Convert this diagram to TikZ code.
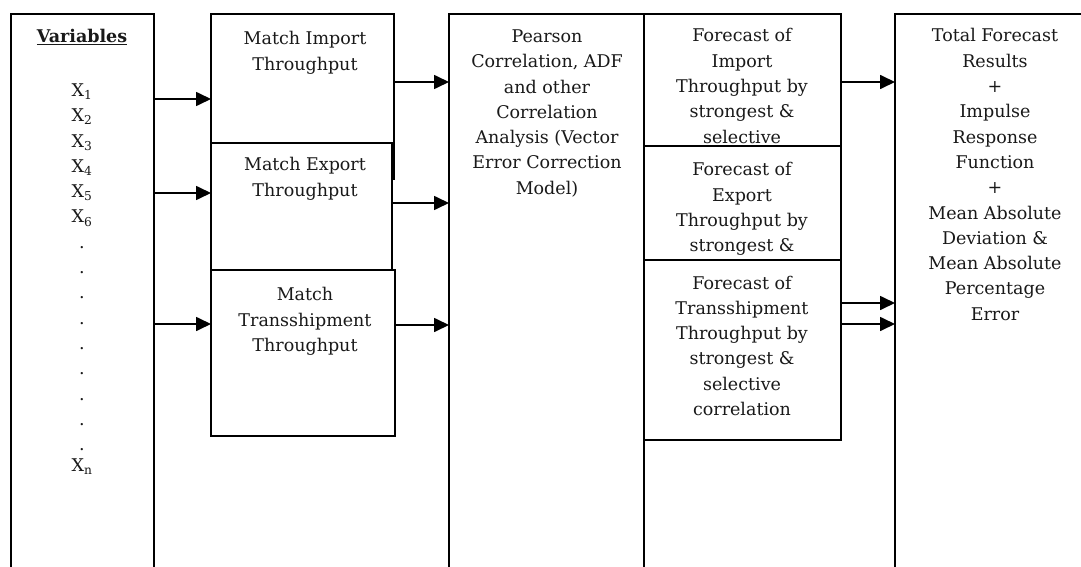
\documentclass[tikz,border=0pt]{standalone}
\usepackage{fontspec}
\setmainfont{DejaVu Serif}
\usetikzlibrary{arrows.meta}
\begin{document}
\begin{tikzpicture}[x=1pt,y=-1pt,
  box/.style={draw, line width=1.7pt, rectangle, inner sep=0pt, outer sep=0pt},
  lbl/.style={align=center, inner sep=0pt, anchor=north, font=\fontsize{17.5}{25.3}\selectfont, text=black!90},
  arr/.style={line width=1.7pt, -{Triangle[length=15pt,width=14pt]}},
]
\clip (0,0) rectangle (1081,567);
\fill[white] (0,0) rectangle (1081,567);
% boxes
\node[box, minimum width=143pt, minimum height=586pt] (var) at (82.5,307) {};
\node[box, minimum width=183pt, minimum height=129pt] (imp) at (302.5,78.5) {};
\node[box, minimum width=181pt, minimum height=127pt] (exp) at (301.5,206.5) {};
\node[box, minimum width=184pt, minimum height=166pt] (tra) at (303,353) {};
\draw[line width=1.7pt] (imp.south east) -- ++(0,37);
\node[box, minimum width=195pt, minimum height=586pt] (pear) at (546.5,307) {};
\node[box, minimum width=197pt, minimum height=132pt] (fimp) at (742.5,80) {};
\node[box, minimum width=197pt, minimum height=114pt] (fexp) at (742.5,203) {};
\node[box, minimum width=197pt, minimum height=180pt] (ftra) at (742.5,350) {};
\node[box, minimum width=205pt, minimum height=586pt] (fin) at (997.5,307) {};
% texts
\node[lbl, font=\fontsize{17.5}{25.3}\selectfont\bfseries] (tvar) at (82,29.5) {\underline{Variables}};
\node[lbl] (txs) at (82,83.5) {X\textsubscript{1}\\X\textsubscript{2}\\X\textsubscript{3}\\X\textsubscript{4}\\X\textsubscript{5}\\X\textsubscript{6}\\.\\.\\.\\.\\.\\.\\.\\.\\.};
\node[lbl] (txn) at (82,458.5) {X\textsubscript{n}};
\node[lbl] (timp) at (305,31.5) {Match Import\\Throughput};
\node[lbl] (texp) at (305,157.5) {Match Export\\Throughput};
\node[lbl] (ttra) at (305,287.5) {Match\\Transshipment\\Throughput};
\node[lbl] (tpear) at (547,29.5) {Pearson\\Correlation, ADF\\and other\\Correlation\\Analysis (Vector\\Error Correction\\Model)};
\node[lbl] (tfimp) at (742,28.5) {Forecast of\\Import\\Throughput by\\strongest \&\\selective};
\node[lbl] (tfexp) at (742,162.5) {Forecast of\\Export\\Throughput by\\strongest \&};
\node[lbl] (tftra) at (742,275.5) {Forecast of\\Transshipment\\Throughput by\\strongest \&\\selective\\correlation};
\node[lbl] (tfin) at (995,28.5) {Total Forecast\\Results\\+\\Impulse\\Response\\Function\\+\\Mean Absolute\\Deviation \&\\Mean Absolute\\Percentage\\Error};
% arrows
\draw[arr] (var.east |- 0,99) -- (imp.west |- 0,99);
\draw[arr] (var.east |- 0,193) -- (exp.west |- 0,193);
\draw[arr] (var.east |- 0,324) -- (tra.west |- 0,324);
\draw[arr] (imp.east |- 0,82) -- (pear.west |- 0,82);
\draw[arr] (exp.east |- 0,203) -- (pear.west |- 0,203);
\draw[arr] (tra.east |- 0,325) -- (pear.west |- 0,325);
\draw[arr] (fimp.east |- 0,82) -- (fin.west |- 0,82);
\draw[arr] (ftra.east |- 0,303) -- (fin.west |- 0,303);
\draw[arr] (ftra.east |- 0,324) -- (fin.west |- 0,324);
\end{tikzpicture}
\end{document}
